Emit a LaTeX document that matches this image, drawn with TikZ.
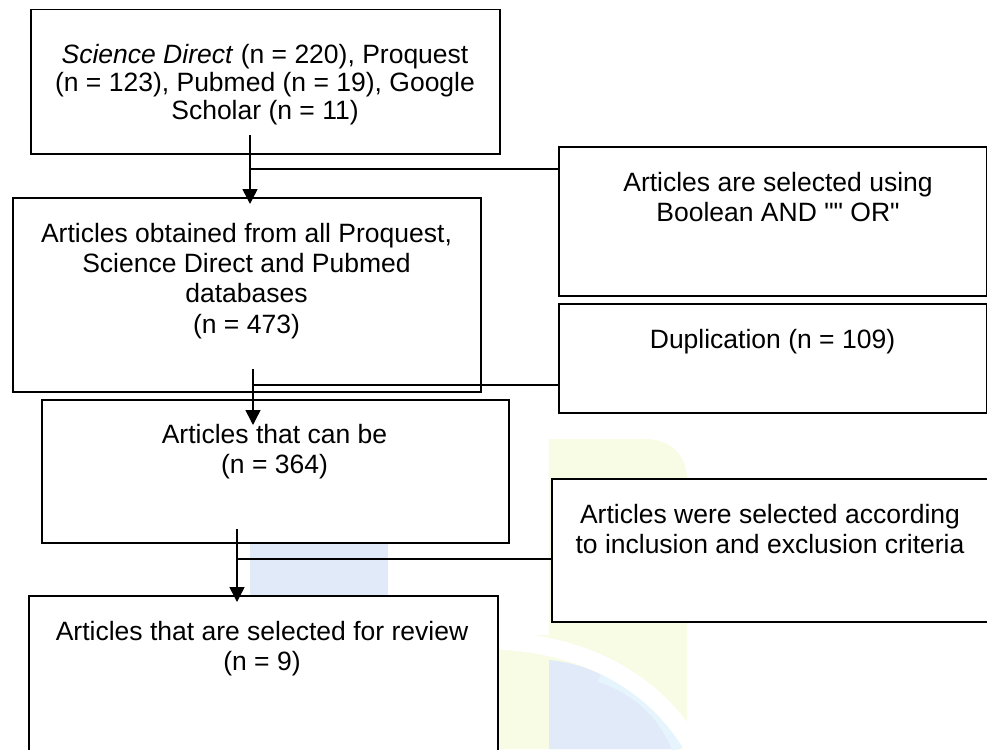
\documentclass[tikz,border=0pt]{standalone}
\usepackage{fontspec}
\setmainfont{Liberation Sans}
\font\qtfont="Liberation Sans" at 26.5pt
\newcommand{\sq}{{\qtfont\char"22}}
\usetikzlibrary{arrows.meta}
\definecolor{wmblue}{HTML}{E1EAF9}
\definecolor{wmcyan}{HTML}{E6F5FD}
\definecolor{wmyellow}{HTML}{F8FCE5}
\begin{document}
\begin{tikzpicture}[x=1pt,y=-1pt,
  box/.style={draw=black, line width=1.5pt, fill=white, rectangle, inner sep=0pt, anchor=north west},
  txt/.style={inner sep=0pt, anchor=north, align=center, font=\fontsize{26.5}{30.3}\selectfont},
  link/.style={line width=1.5pt},
  arr/.style={link, -{Triangle[width=15pt,length=15pt]}}]

\path[use as bounding box, fill=white] (0,0) rectangle (987,749);
\clip (0,0) rectangle (987,749);

% faint watermark
\fill[wmblue] (250,480) rectangle (388,600);
\fill[wmyellow] (549,439) -- (645,439) .. controls (670,439) and (687,455) .. (687,480)
  -- (687,749) -- (497,749) -- (497,635) -- (549,635) -- cycle;
\fill[wmblue] (549,749) -- (549,660) .. controls (600,665) and (650,695) .. (680,749) -- cycle;
\draw[wmcyan, line width=12pt] (600,676) .. controls (640,690) and (665,715) .. (678,749);
\draw[white, line width=18pt] (480,640) .. controls (580,640) and (660,680) .. (700,760);

% boxes
\node[box, minimum width=469pt, minimum height=144pt] (b1) at (30,9) {};
\node[box, minimum width=468pt, minimum height=194pt] (b2) at (12,197) {};
\node[box, minimum width=467pt, minimum height=143pt] (b3) at (41,399) {};
\node[box, minimum width=469pt, minimum height=180pt] (b4) at (28,595) {};
\node[box, minimum width=428pt, minimum height=149pt] (bA) at (558,146) {};
\node[box, minimum width=428pt, minimum height=109pt] (bD) at (558,303) {};
\node[box, minimum width=460pt, minimum height=143pt] (bC) at (551,478) {};

% texts
\node[txt, font=\fontsize{26.5}{28}\selectfont] (t1) at (265,43)
  {\rule{0pt}{20pt}\textit{Science Direct} (n = 220), Proquest\\(n = 123), Pubmed (n = 19), Google\\Scholar (n = 11)};
\node[txt] (t2) at (246.5,222)
  {\rule{0pt}{20pt}Articles obtained from all Proquest,\\Science Direct and Pubmed\\databases\\(n = 473)};
\node[txt] (t3) at (274.5,423) {\rule{0pt}{20pt}Articles that can be\\(n = 364)};
\node[txt] (t4) at (262,620) {\rule{0pt}{20pt}Articles that are selected for review\\(n = 9)};
\node[txt] (tA) at (778,171) {\rule{0pt}{20pt}Articles are selected using\\Boolean AND \sq\sq{} OR\sq};
\node[txt] (tD) at (772.5,328) {\rule{0pt}{20pt}Duplication (n = 109)};
\node[txt] (tC) at (770,503) {\rule{0pt}{20pt}Articles were selected according\\to inclusion and exclusion criteria};

% connectors
\coordinate (s1) at (250,135); \coordinate (e1) at (250,204); \coordinate (j1) at (250,169);
\coordinate (s2) at (253,369); \coordinate (e2) at (253,425); \coordinate (j2) at (253,385);
\coordinate (s3) at (237,529); \coordinate (e3) at (237,602); \coordinate (j3) at (237,559);
\draw[arr] (s1) -- (e1);
\draw[link] (j1) -- (j1 -| bA.west);
\draw[arr] (s2) -- (e2);
\draw[link] (j2) -- (j2 -| bD.west);
\draw[arr] (s3) -- (e3);
\draw[link] (j3) -- (j3 -| bC.west);
\end{tikzpicture}
\end{document}
